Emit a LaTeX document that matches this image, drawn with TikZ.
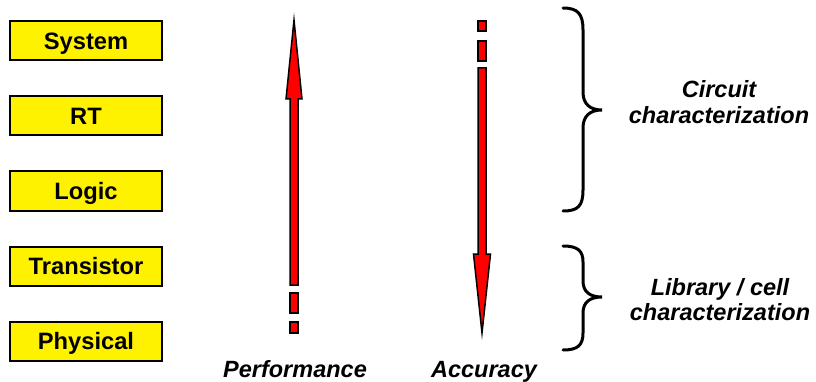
\documentclass[tikz,border=0pt]{standalone}
\usepackage{fontspec}
\setmainfont{Liberation Sans}
\begin{document}
\begin{tikzpicture}[x=1pt,y=-1pt,
  level/.style={draw=black,line width=2pt,fill=yellow,minimum width=152pt,minimum height=39pt,inner sep=0pt,text height=17pt,text depth=0pt,font=\fontsize{23.7}{25}\selectfont\bfseries},
  label/.style={align=center,inner sep=0pt,font=\fontsize{23.5}{25.5}\selectfont\bfseries\itshape},
  arr/.style={draw=black,line width=1.5pt,fill=red,line join=miter},
  brace/.style={draw=black,line width=3pt,line cap=round}]
\useasboundingbox (0,0) rectangle (816,382);
\node[level] (sys) at (86,41) {System};
\node[level] (rt) at (86,116) {RT};
\node[level] (logic) at (86,191) {Logic};
\node[level] (trans) at (86,266) {Transistor};
\node[level] (phys) at (86,341) {Physical};
% Performance arrow (up)
\path[arr] (290,285) -- (290,99) -- (286,99) -- (294,20) -- (302,99) -- (298,99) -- (298,285) -- cycle;
\path[arr] (290,293) rectangle (298,313);
\path[arr] (290,322) rectangle (298,333);
% Accuracy arrow (down)
\path[arr] (478,68) -- (478,254) -- (473.5,254) -- (482,333) -- (490.5,254) -- (486,254) -- (486,68) -- cycle;
\path[arr] (478,41) rectangle (486,61);
\path[arr] (478,21) rectangle (486,31);
% braces
\path[brace] (563,8) .. controls (578,8) and (583,14) .. (583,30) -- (583,92) .. controls (583,104) and (590,110) .. (602,110) .. controls (590,110) and (583,116) .. (583,128) -- (583,190) .. controls (583,206) and (578,211) .. (563,211);
\path[brace] (563,246) .. controls (578,246) and (583,251) .. (583,262) -- (583,281) .. controls (583,292) and (590,297) .. (602,297) .. controls (590,297) and (583,302) .. (583,313) -- (583,333) .. controls (583,345) and (578,350) .. (563,350);
\node[label] (circ) at (719,102) {Circuit\\characterization};
\node[label] (lib) at (720,299.5) {Library / cell\\characterization};
\node[label,anchor=base] (perf) at (295,377) {Performance};
\node[label,anchor=base] (acc) at (484,377) {Accuracy};
\end{tikzpicture}
\end{document}
